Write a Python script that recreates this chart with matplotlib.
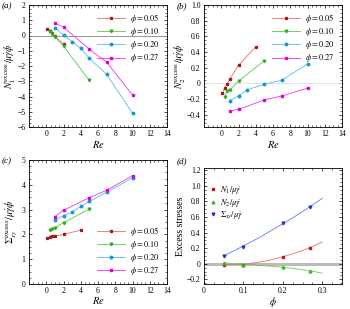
import numpy as np
import matplotlib
matplotlib.use("Agg")
import matplotlib.pyplot as plt
from matplotlib.ticker import AutoMinorLocator

plt.rcParams['font.family'] = 'Liberation Serif'
plt.rcParams['mathtext.fontset'] = 'stix'
plt.rcParams['font.size'] = 6

# (a) N1
re_05 = [0.1, 0.4, 0.7, 1, 2]
n1_05 = [0.4, 0.3, 0.15, -0.05, -0.55]
re_10 = [0.4, 0.7, 1, 2, 5]
n1_10 = [0.3, 0.1, -0.1, -0.7, -2.95]
re_20 = [1, 2, 3, 4, 5, 7, 10]
n1_20 = [0.5, 0.02, -0.4, -0.85, -1.5, -2.55, -5.1]
re_27 = [1, 2, 5, 7, 10]
n1_27 = [0.8, 0.55, -0.9, -1.75, -3.9]

# (b) N2
re_05b = [0.1, 0.4, 0.7, 1, 2, 4]
n2_05 = [-0.12, -0.06, -0.01, 0.06, 0.23, 0.47]
n2_10 = [-0.17, -0.09, -0.08, 0.03, 0.29]
re_20b = [1, 2, 3, 5, 7, 10]
n2_20 = [-0.22, -0.16, -0.08, -0.01, 0.04, 0.25]
n2_27 = [-0.35, -0.33, -0.21, -0.16, -0.06]

# (c) Sigma_xy
sxy_05 = [1.85, 1.9, 1.95, 1.93, 2.0, 2.17]
sxy_10 = [2.18, 2.22, 2.27, 2.47, 3.03]
sxy_20 = [2.58, 2.75, 2.9, 3.13, 3.33, 3.7, 4.28]
sxy_27 = [2.72, 2.97, 3.48, 3.78, 4.37]

# (d) excess stresses vs phi
phi = [0.05, 0.1, 0.2, 0.27]
d_n1 = [-0.01, -0.01, 0.09, 0.2]
d_n2 = [0.01, -0.01, -0.04, -0.09]
d_sxy = [0.1, 0.22, 0.52, 0.73]
phi_fit = [0.05, 0.075, 0.1, 0.125, 0.15, 0.175, 0.2, 0.225, 0.25, 0.275, 0.3]
fit_n1 = [-0.01, -0.012, -0.005, 0.01, 0.03, 0.057, 0.09, 0.128, 0.17, 0.22, 0.28]
fit_n2 = [0.01, 0.003, -0.005, -0.014, -0.024, -0.034, -0.046, -0.06, -0.076, -0.096, -0.12]
fit_sxy = [0.1, 0.165, 0.23, 0.295, 0.365, 0.44, 0.515, 0.59, 0.67, 0.755, 0.84]

labels = [r'$\phi = 0.05$', r'$\phi = 0.10$', r'$\phi = 0.20$', r'$\phi = 0.27$']
lcol = ['#e87070', '#55cc44', '#55bbee', '#ee33ee']
mcol = ['#b01818', '#33aa22', '#1199dd', '#dd00dd']
mk = ['*', 'v', 'o', 's']
ms = [2.2, 1.9, 1.8, 1.9]

fig = plt.figure(figsize=(3.5, 3.09), dpi=100)
W, H = 350.0, 309.0
def mkax(l, t, r, b):
    return fig.add_axes([l / W, 1 - b / H, (r - l) / W, (b - t) / H])

axa = mkax(29, 5, 167, 127)
axb = mkax(204, 5, 342, 127)
axc = mkax(29, 160, 167, 284)
axd = mkax(204, 168, 342, 284)

def style(ax):
    ax.tick_params(direction='in', which='both', top=True, right=True, labelsize=5.5, pad=2.5)
    ax.tick_params(axis='x', which='both', pad=2)
    ax.tick_params(which='major', length=2.5, width=0.5)
    ax.tick_params(which='minor', length=1.3, width=0.4)
    ax.xaxis.set_minor_locator(AutoMinorLocator(4))
    ax.yaxis.set_minor_locator(AutoMinorLocator(4))
    for s in ax.spines.values():
        s.set_linewidth(0.6)

def series(ax, xs, ys):
    for i in range(4):
        ax.plot(xs[i], ys[i], color=lcol[i], lw=0.6, marker=mk[i], ms=ms[i],
                mfc=mcol[i], mec=mcol[i], label=labels[i])

def leg(ax, loc):
    ax.legend(loc=loc, frameon=False, fontsize=6, handlelength=3.4,
              borderaxespad=0.4, labelspacing=0.15, handletextpad=0.6)

# (a)
axa.axhline(0, color='#888888', lw=0.6)
series(axa, [re_05, re_10, re_20, re_27], [n1_05, n1_10, n1_20, n1_27])
axa.set_xlim(-2, 14)
axa.set_ylim(-6, 2)
axa.set_xticks(range(0, 15, 2))
axa.set_yticks(range(-6, 3))
axa.set_ylabel(r'$N_1^{\rm excess}/\mu\dot{\gamma}\phi$', fontsize=7, labelpad=0)
axa.set_xlabel(r'$Re$', fontsize=7.5, labelpad=1)
style(axa)
leg(axa, 'upper right')

# (b)
axb.axhline(0, color='#e0e0e0', lw=0.6)
series(axb, [re_05b, re_10, re_20b, re_27], [n2_05, n2_10, n2_20, n2_27])
axb.set_xlim(-2, 14)
axb.set_ylim(-0.555, 1.0)
axb.set_xticks(range(0, 15, 2))
axb.set_yticks(np.arange(-0.4, 1.01, 0.2))
axb.set_yticklabels(['\u22120.4', '\u22120.2', '0', '0.2', '0.4', '0.6', '0.8', '1.0'])
axb.set_ylabel(r'$N_2^{\rm excess}/\mu\dot{\gamma}\phi$', fontsize=7, labelpad=0)
axb.set_xlabel(r'$Re$', fontsize=7.5, labelpad=1)
style(axb)
leg(axb, 'upper right')

# (c)
series(axc, [re_05b, re_10, re_20, re_27], [sxy_05, sxy_10, sxy_20, sxy_27])
axc.set_xlim(-2, 14)
axc.set_ylim(0, 5)
axc.set_xticks(range(0, 15, 2))
axc.set_yticks(range(0, 6))
axc.set_ylabel(r'$\Sigma_{xy}^{\rm excess}/\mu\dot{\gamma}\phi$', fontsize=7, labelpad=2)
axc.set_xlabel(r'$Re$', fontsize=7.5, labelpad=0)
style(axc)
leg(axc, 'lower right')

# (d)
axd.axhline(0, color='#bbbbbb', lw=2.2, zorder=1)
axd.plot(phi_fit, fit_n1, color='#e87070', lw=0.6, zorder=2)
axd.plot(phi_fit, fit_n2, color='#66cc55', lw=0.6, zorder=2)
axd.plot(phi_fit, fit_sxy, color='#6677ee', lw=0.6, zorder=2)
axd.plot(phi, d_n1, ls='none', marker='s', ms=1.9, color='#c01818', zorder=3,
         label=r'$N_1/\mu\dot{\gamma}$')
axd.plot(phi, d_n2, ls='none', marker='^', ms=2.0, color='#33bb22', zorder=3,
         label=r'$N_2/\mu\dot{\gamma}$')
axd.plot(phi, d_sxy, ls='none', marker='v', ms=2.0, color='#2233cc', zorder=3,
         label=r'$\Sigma_{xy}/\mu\dot{\gamma}$')
axd.set_xlim(0, 0.35)
axd.set_ylim(-0.26, 1.23)
axd.set_xticks([0, 0.1, 0.2, 0.3])
axd.set_xticklabels(['0', '0.1', '0.2', '0.3'])
axd.set_yticks(np.arange(-0.2, 1.21, 0.2))
axd.set_yticklabels(['\u22120.2', '0', '0.2', '0.4', '0.6', '0.8', '1.0', '1.2'])
axd.set_ylabel('Excess stresses', fontsize=7, labelpad=1)
axd.set_xlabel(r'$\phi$', fontsize=7, labelpad=0)
style(axd)
axd.legend(loc='upper left', bbox_to_anchor=(0.02, 0.89), frameon=False, fontsize=6,
           handlelength=0.8, labelspacing=0.05, handletextpad=0.4, borderaxespad=0)

fig.text(2 / W, 1 - 6 / H, '(a)', fontsize=6.5, style='italic', va='center')
fig.text(177 / W, 1 - 6 / H, '(b)', fontsize=6.5, style='italic', va='center')
fig.text(2 / W, 1 - 161 / H, '(c)', fontsize=6.5, style='italic', va='center')
fig.text(177 / W, 1 - 161 / H, '(d)', fontsize=6.5, style='italic', va='center')

fig.savefig('out.png', dpi=100)
